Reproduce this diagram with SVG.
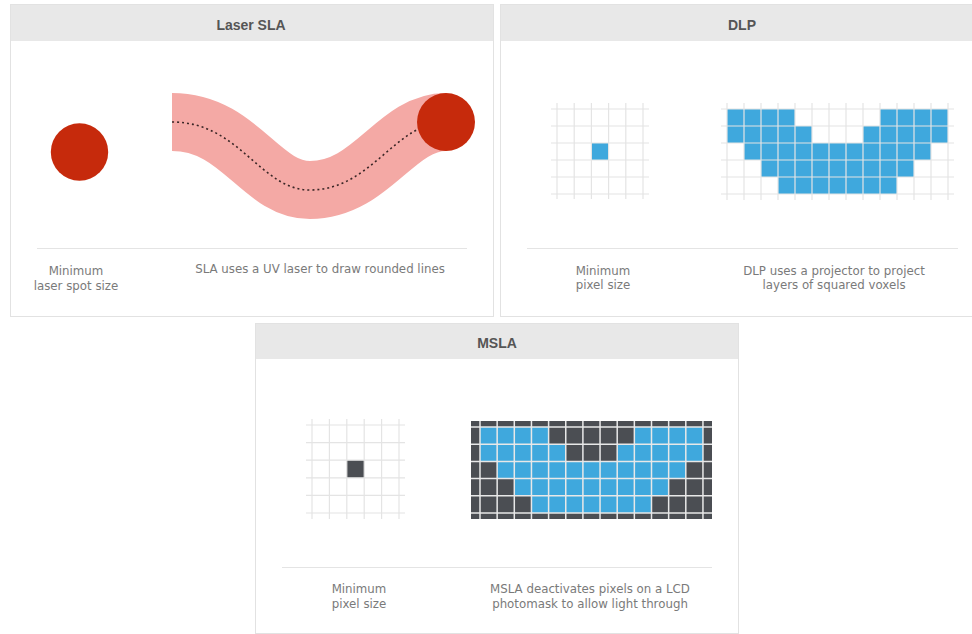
<svg xmlns="http://www.w3.org/2000/svg" width="972" height="634" viewBox="0 0 972 634">
<style>
.panel{fill:#ffffff;stroke:#e2e2e2;stroke-width:1}
.head{fill:#e8e8e8}
.title{font-family:"Liberation Sans",Arial,sans-serif;font-weight:bold;font-size:14px;fill:#555555;text-anchor:middle}
.cap{font-family:"DejaVu Sans",sans-serif;font-size:11.8px;fill:#7a7a7a;text-anchor:middle}
.sep{stroke:#e4e4e4;stroke-width:1;fill:none}
.grid{stroke:#e4e4e4;stroke-width:1.2;fill:none}
.mgrid{stroke:#e8e8e8;stroke-width:1.5;fill:none}
.blue{fill:#3fa8dd}
.dark{fill:#4b4e53}
.red{fill:#c62a0c}
</style>
<rect width="972" height="634" fill="#ffffff"/>

<g id="panel-laser-sla">
  <rect class="panel" x="10.5" y="4.5" width="483" height="312"/>
  <rect class="head" x="11" y="5" width="482" height="36"/>
  <text class="title" x="251" y="30">Laser SLA</text>
  <path d="M172 122 C240 122 260 190 310 190 C372 190 395 122 446 122" fill="none" stroke="#f4a9a5" stroke-width="58"/>
  <path d="M172 122 C240 122 260 190 310 190 C372 190 395 122 446 122" fill="none" stroke="#3a2626" stroke-width="1.6" stroke-dasharray="2 3"/>
  <circle class="red" cx="446" cy="122" r="29"/>
  <circle class="red" cx="79.5" cy="152" r="28.7"/>
  <line class="sep" x1="37" y1="248.5" x2="467" y2="248.5"/>
  <text class="cap" x="76" y="275">Minimum</text>
  <text class="cap" x="76" y="290">laser spot size</text>
  <text class="cap" x="320" y="273">SLA uses a UV laser to draw rounded lines</text>
</g>

<g id="panel-dlp">
  <rect class="panel" x="500.5" y="4.5" width="480" height="312"/>
  <rect class="head" x="501" y="5" width="479" height="36"/>
  <text class="title" x="742" y="30">DLP</text>
  <rect class="blue" x="591.4" y="143" width="17.2" height="17"/>
  <path class="grid" d="M557 103V199M574.2 103V199M591.4 103V199M608.6 103V199M625.8 103V199M643 103V199M551 109H649M551 126H649M551 143H649M551 160H649M551 177H649M551 194H649"/>
  <rect class="blue" x="727" y="109" width="68" height="17"/>
  <rect class="blue" x="880" y="109" width="68" height="17"/>
  <rect class="blue" x="727" y="126" width="85" height="17"/>
  <rect class="blue" x="863" y="126" width="85" height="17"/>
  <rect class="blue" x="744" y="143" width="187" height="17"/>
  <rect class="blue" x="761" y="160" width="153" height="17"/>
  <rect class="blue" x="778" y="177" width="119" height="17"/>
  <path class="grid" d="M727 103V200M744 103V200M761 103V200M778 103V200M795 103V200M812 103V200M829 103V200M846 103V200M863 103V200M880 103V200M897 103V200M914 103V200M931 103V200M948 103V200M721 109H954M721 126H954M721 143H954M721 160H954M721 177H954M721 194H954"/>
  <line class="sep" x1="527" y1="248.5" x2="958" y2="248.5"/>
  <text class="cap" x="603" y="275">Minimum</text>
  <text class="cap" x="603" y="289">pixel size</text>
  <text class="cap" x="834" y="275">DLP uses a projector to project</text>
  <text class="cap" x="834" y="289">layers of squared voxels</text>
</g>

<g id="panel-msla">
  <rect class="panel" x="255.5" y="323.5" width="483" height="310"/>
  <rect class="head" x="256" y="324" width="482" height="35"/>
  <text class="title" x="497" y="348">MSLA</text>
  <rect class="dark" x="346.8" y="460.2" width="17.4" height="17.6"/>
  <path class="grid" d="M312 419V519M329.4 419V519M346.8 419V519M364.2 419V519M381.6 419V519M399 419V519M306 425H405M306 442.6H405M306 460.2H405M306 477.8H405M306 495.4H405M306 513H405"/>
  <rect class="dark" x="471" y="421" width="241" height="98"/>
  <rect class="blue" x="480" y="427" width="68.6" height="17.2"/>
  <rect class="blue" x="634.35" y="427" width="68.6" height="17.2"/>
  <rect class="blue" x="480" y="444.2" width="85.75" height="17.2"/>
  <rect class="blue" x="617.2" y="444.2" width="85.75" height="17.2"/>
  <rect class="blue" x="497.15" y="461.4" width="188.65" height="17.2"/>
  <rect class="blue" x="514.3" y="478.6" width="154.35" height="17.2"/>
  <rect class="blue" x="531.45" y="495.8" width="120.05" height="17.2"/>
  <path class="mgrid" d="M480 421V519M497.15 421V519M514.3 421V519M531.45 421V519M548.6 421V519M565.75 421V519M582.9 421V519M600.05 421V519M617.2 421V519M634.35 421V519M651.5 421V519M668.65 421V519M685.8 421V519M702.95 421V519M471 427H712M471 444.2H712M471 461.4H712M471 478.6H712M471 495.8H712M471 513H712"/>
  <line class="sep" x1="282" y1="567.5" x2="712" y2="567.5"/>
  <text class="cap" x="359" y="593">Minimum</text>
  <text class="cap" x="359" y="608">pixel size</text>
  <text class="cap" x="590" y="593">MSLA deactivates pixels on a LCD</text>
  <text class="cap" x="590" y="608">photomask to allow light through</text>
</g>

<g id="connectors"></g>
</svg>
